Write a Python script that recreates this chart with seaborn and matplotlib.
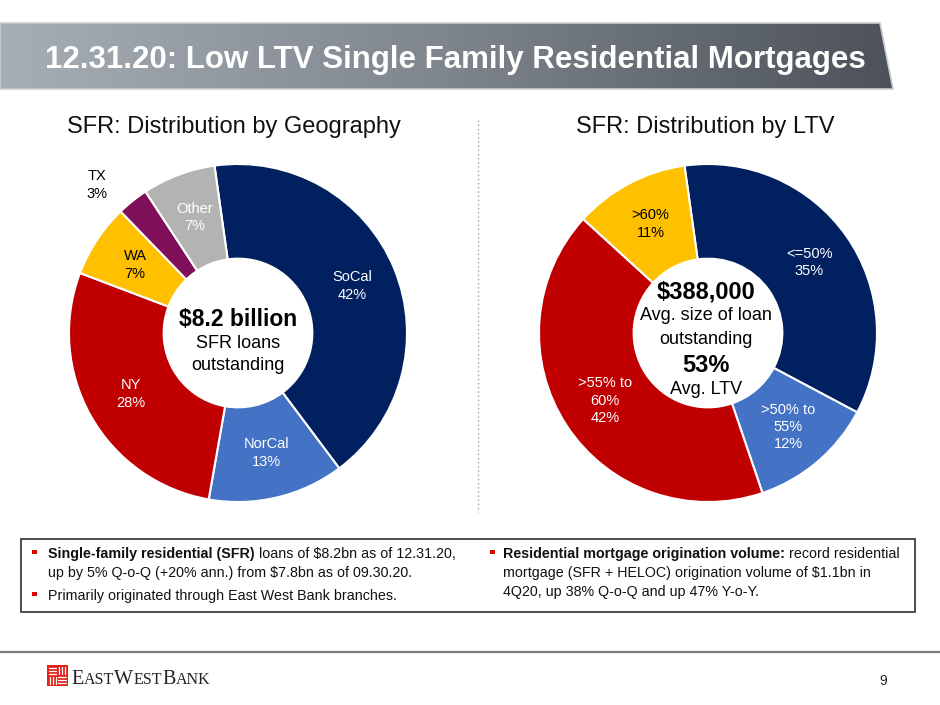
import matplotlib
matplotlib.use("Agg")
import numpy as np
import matplotlib.pyplot as plt
import seaborn as sns
from matplotlib.patches import Polygon, Rectangle

# ---- chart data ----
geo_labels = ["SoCal", "NorCal", "NY", "WA", "TX", "Other"]
geo_values = [42, 13, 28, 7, 3, 7]
geo_colors = ["#002060", "#4472C4", "#C00000", "#FFC000", "#7F0F58", "#B3B3B3"]
geo_text_colors = ["white", "white", "white", "black", "black", "white"]
geo_outside = ["TX"]  # label drawn outside the ring

ltv_labels = ["<=50%", ">50% to\n55%", ">55% to\n60%", ">60%"]
ltv_values = [35, 12, 42, 11]
ltv_colors = ["#002060", "#4472C4", "#C00000", "#FFC000"]
ltv_text_colors = ["white", "white", "white", "black"]

title = "12.31.20: Low LTV Single Family Residential Mortgages"
left_subtitle = "SFR: Distribution by Geography"
right_subtitle = "SFR: Distribution by LTV"
left_center = [("$8.2 billion", "bold"), ("SFR loans", "normal"), ("outstanding", "normal")]
right_center = [("$388,000", "bold"), ("Avg. size of loan", "normal"), ("outstanding", "normal"),
                ("53%", "bold"), ("Avg. LTV", "normal")]

left_bullets = [
    [[("Single-family residential (SFR)", "bold"), ("loans of $8.2bn as of 12.31.20,", "normal")],
     [("up by 5% Q-o-Q (+20% ann.) from $7.8bn as of 09.30.20.", "normal")]],
    [[("Primarily originated through East West Bank branches.", "normal")]],
]
right_bullets = [
    [[("Residential mortgage origination volume:", "bold"), ("record residential", "normal")],
     [("mortgage (SFR + HELOC) origination volume of $1.1bn in", "normal")],
     [("4Q20, up 38% Q-o-Q and up 47% Y-o-Y.", "normal")]],
]

W, H = 940, 705
sns.set_theme(style="white")
plt.rcParams["font.family"] = ["Liberation Sans", "DejaVu Sans"]

fig = plt.figure(figsize=(W / 100, H / 100), dpi=100)
fig.patch.set_facecolor("white")

# overlay axes in pixel units for the slide decoration
ov = fig.add_axes([0, 0, 1, 1])
ov.set_xlim(0, W)
ov.set_ylim(H, 0)
ov.axis("off")
ov.patch.set_alpha(0)

# title banner with gradient
banner = Polygon([(0, 23), (880, 23), (893, 89), (0, 89)], closed=True,
                 facecolor="none", edgecolor="#C9CDD2", lw=1.2)
ov.add_patch(banner)
grad = np.linspace(0, 1, 256).reshape(1, -1)
cmap = sns.blend_palette(["#A6AEB6", "#7E858D", "#4D525A"], as_cmap=True)
im = ov.imshow(grad, extent=(0, 893, 89, 23), cmap=cmap, aspect="auto", zorder=0)
im.set_clip_path(banner)
ov.set_xlim(0, W)
ov.set_ylim(H, 0)
ov.text(45, 68, title, color="white", fontsize=22.5, fontweight="bold", va="baseline", ha="left")

ov.text(234, 127, left_subtitle, fontsize=17, ha="center", va="center", color="#111111")
ov.text(705, 127, right_subtitle, fontsize=17, ha="center", va="center", color="#111111")

# dotted separator
ov.plot([478, 478], [120, 512], color="#A0A0A0", lw=1, ls=(0, (1, 2)))


def donut(cx, cy, radius, values, labels, colors, text_colors, outside=()):
    pad = 1.3
    ax = fig.add_axes([(cx - radius * pad) / W, (H - cy - radius * pad) / H,
                       2 * radius * pad / W, 2 * radius * pad / H])
    texts_in = [f"{l}\n{v}%" for l, v in zip(labels, values)]
    wedges, texts = ax.pie(values, labels=texts_in, colors=colors, startangle=98,
                           counterclock=False, labeldistance=0.73,
                           wedgeprops=dict(width=0.56, edgecolor="white", linewidth=1.5),
                           textprops=dict(fontsize=10.5))
    for w, t, lab, tc in zip(wedges, texts, labels, text_colors):
        t.set_ha("center")
        t.set_va("center")
        t.set_multialignment("center")
        t.set_color(tc)
        t.set_linespacing(1.3)
        if lab in outside:
            # outside label, nudged a little past the thin slice
            mid = np.deg2rad((w.theta1 + w.theta2) / 2 + 5)
            t.set_position((1.21 * np.cos(mid), 1.21 * np.sin(mid)))
    ax.set_xlim(-pad, pad)
    ax.set_ylim(-pad, pad)
    ax.set_aspect("equal")
    ax.axis("off")
    return ax


donut(238, 333, 169, geo_values, geo_labels, geo_colors, geo_text_colors, geo_outside)
donut(708, 333, 169, ltv_values, ltv_labels, ltv_colors, ltv_text_colors)

# centre captions
for (txt, wt), y in zip(left_center, [319, 343, 366]):
    ov.text(238, y, txt, fontsize=16.5 if wt == "bold" else 13, fontweight=wt,
            ha="center", va="center", color="black")
for (txt, wt), y in zip(right_center, [292, 316, 339, 365, 389]):
    ov.text(706, y, txt, fontsize=17 if wt == "bold" else 13, fontweight=wt,
            ha="center", va="center", color="black")

# text box
ov.add_patch(Rectangle((21, 539), 894, 73, facecolor="none", edgecolor="#404040", lw=1.3))
renderer = fig.canvas.get_renderer()


def rich_line(x, y, parts, size=10.3, family=None, color="#111111"):
    gap = 0.278 * size * 100 / 72
    for txt, wt in parts:
        kw = dict(fontsize=size, fontweight=wt, va="baseline", ha="left", color=color)
        if family:
            kw["family"] = family
        t = ov.text(x, y, txt, **kw)
        x += t.get_window_extent(renderer).width + gap
    return x


def bullet_block(x_bullet, x_text, baselines, bullets):
    i = 0
    for b in bullets:
        ov.add_patch(Rectangle((x_bullet, baselines[i] - 8.5), 4.5, 4.5, facecolor="#E00000", lw=0))
        for line in b:
            rich_line(x_text, baselines[i], line)
            i += 1


bullet_block(32, 48, [558, 577, 600], left_bullets)
bullet_block(490, 503, [558, 577, 596], right_bullets)

# footer
ov.plot([0, W], [652, 652], color="#7F7F7F", lw=1.6)
ov.add_patch(Rectangle((47, 665), 21, 21, facecolor="#E2231A", lw=0))
for k in range(3):
    ov.plot([49, 56], [668 + 3 * k, 668 + 3 * k], color="white", lw=0.9)
    ov.plot([59 + 3 * k, 59 + 3 * k], [667, 674], color="white", lw=0.9)
    ov.plot([50 + 3 * k, 50 + 3 * k], [677, 684], color="white", lw=0.9)
    ov.plot([58, 66], [677 + 3 * k, 677 + 3 * k], color="white", lw=0.9)

x = 71
for txt, sz in [("E", 14.5), ("AST", 11.5), ("W", 14.5), ("EST", 11.5), ("B", 14.5), ("ANK", 11.5)]:
    t = ov.text(x, 684, txt, fontsize=sz, family="Liberation Serif", va="baseline",
                ha="left", color="#222222")
    x += t.get_window_extent(renderer).width + 0.3

ov.text(883, 681, "9", fontsize=10, ha="center", va="center", color="#222222")

fig.savefig("out.png", dpi=100, facecolor="white")
